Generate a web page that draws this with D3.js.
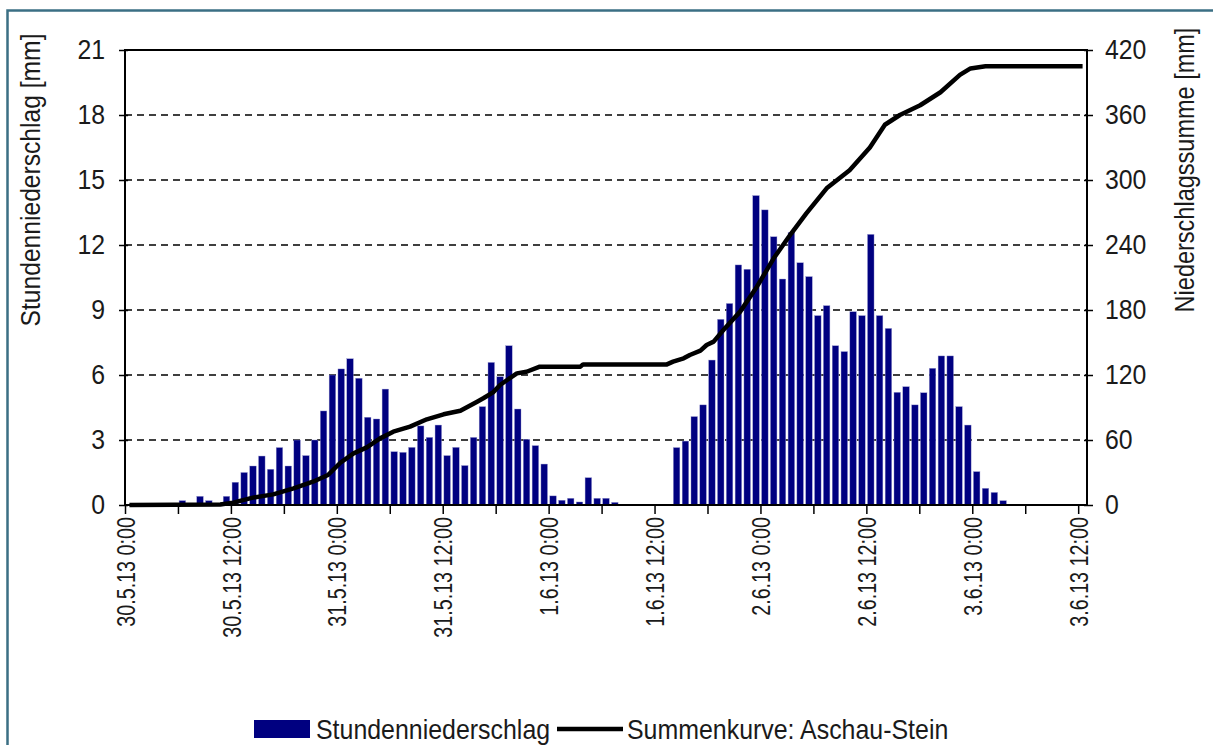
<!DOCTYPE html>
<html>
<head>
<meta charset="utf-8">
<script src="https://cdn.jsdelivr.net/npm/d3@7"></script>
<style>
  body { margin: 0; background: #fff; }
  text { font-family: "Liberation Sans", Arial, sans-serif; fill: #1a1a1a; }
</style>
</head>
<body>
<script>
// hourly rain (mm), index 0 = 30.5.13 0:00 ... 108 = 3.6.13 12:00
var hourlyRain = [
  0, 0, 0, 0, 0, 0, 0.2, 0, 0.4, 0.2,
  0, 0.4, 1.05, 1.5, 1.8, 2.26, 1.65, 2.65, 1.8, 3.0,
  2.28, 3.0, 4.34, 6.0, 6.28, 6.75, 5.85, 4.05, 3.97, 5.35,
  2.46, 2.43, 2.66, 3.65, 3.12, 3.69, 2.28, 2.66, 1.82, 3.12,
  4.54, 6.58, 5.92, 7.35, 4.43, 3.03, 2.74, 1.89, 0.42, 0.22,
  0.31, 0.14, 1.26, 0.31, 0.31, 0.12, 0, 0, 0, 0,
  0, 0, 2.65, 2.95, 4.08, 4.62, 6.69, 8.57, 9.3, 11.08,
  10.88, 14.28, 13.62, 12.38, 10.43, 12.58, 11.18, 10.54, 8.74, 9.2,
  7.35, 7.08, 8.92, 8.74, 12.49, 8.74, 8.15, 5.2, 5.46, 4.62,
  5.18, 6.31, 6.88, 6.88, 4.54, 3.69, 1.54, 0.77, 0.58, 0.2,
  0, 0, 0, 0, 0, 0, 0, 0, 0
];

// cumulative curve (hour index, mm)
var curveHour = [0, 10.3, 11.75, 14, 16.3, 18.6, 20.8, 22.5, 23.9, 25.4,
  26.9, 28.4, 29.9, 31.8, 33.7, 35.6, 37.5, 39.4, 40.1, 41.2,
  42, 42.8, 43.9, 45, 46.5, 51.1, 51.4, 60.9, 61.6, 62.8,
  63.5, 64.7, 65.4, 66.2, 67.3, 69.2, 71.1, 73, 75, 76.7,
  79, 81.6, 83.9, 85.6, 87.3, 89.6, 91.9, 94.1, 95.3, 97, 108];
var curveSum = [0, 0.5, 2.2, 6.8, 9.8, 15.4, 21.5, 27.7, 39, 47.7,
  53.2, 61.5, 67.7, 72.3, 79.1, 83.7, 87, 95.4, 98.5, 104,
  110.8, 115.4, 121.5, 123, 127.7, 127.7, 129.8, 129.8, 132.3, 135.4,
  138.5, 142.5, 147.7, 150.8, 161.5, 178.5, 201.5, 227.7, 250.8, 269.2,
  292.3, 309, 330, 351, 360, 369, 381, 397, 403, 405, 405];

var leftTicks = [0, 3, 6, 9, 12, 15, 18, 21];
var rightTicks = [0, 60, 120, 180, 240, 300, 360, 420];
var xTickHours = [0, 6, 12, 18, 24, 30, 36, 42, 48, 54, 60, 66, 72, 78, 84, 90, 96, 102, 108];
var xLabels = {0: "30.5.13 0:00", 12: "30.5.13 12:00", 24: "31.5.13 0:00", 36: "31.5.13 12:00",
  48: "1.6.13 0:00", 60: "1.6.13 12:00", 72: "2.6.13 0:00", 84: "2.6.13 12:00",
  96: "3.6.13 0:00", 108: "3.6.13 12:00"};

var W = 1213, H = 745;
var plot = {left: 125, right: 1087, top: 50, bottom: 505};

// the reference font is tall and narrow: bigger size, squeezed along the text
function squeeze(sel, sx, extra) {
  sel.each(function() {
    var t = d3.select(this);
    var xv = +t.attr("x") || 0;
    t.attr("x", xv / sx)
     .attr("transform", (extra || "") + "scale(" + sx + ",1)");
  });
}

var svg = d3.select("body").append("svg")
    .attr("width", W)
    .attr("height", H);

// outer frame
svg.append("rect")
    .attr("x", 7.5).attr("y", 10.5)
    .attr("width", W).attr("height", H)
    .attr("fill", "none")
    .attr("stroke", "#3b6f84")
    .attr("stroke-width", 2.5);

var n = hourlyRain.length;
var x = d3.scaleBand()
    .domain(d3.range(n))
    .range([plot.left, plot.right])
    .paddingInner(0.26)
    .paddingOuter(0.13);
var xh = d3.scaleLinear().domain([0, n]).range([plot.left, plot.right]);
var y = d3.scaleLinear().domain([0, 21]).range([plot.bottom, plot.top]);
var y2 = d3.scaleLinear().domain([0, 420]).range([plot.bottom, plot.top]);

// dashed gridlines
svg.append("g").selectAll("line")
    .data(leftTicks.slice(1, -1))
  .enter().append("line")
    .attr("x1", plot.left).attr("x2", plot.right)
    .attr("y1", function(d) { return y(d); })
    .attr("y2", function(d) { return y(d); })
    .attr("stroke", "#000")
    .attr("stroke-width", 1.5)
    .attr("stroke-dasharray", "7,5");

// bars
svg.append("g").selectAll("rect")
    .data(hourlyRain)
  .enter().append("rect")
    .attr("x", function(d, i) { return x(i); })
    .attr("width", x.bandwidth())
    .attr("y", function(d) { return y(d); })
    .attr("height", function(d) { return plot.bottom - y(d); })
    .attr("fill", "#000080")
    .attr("stroke", "#9a9ad0")
    .attr("stroke-width", 0.4);

// cumulative line
var line = d3.line()
    .x(function(d, i) { return xh(curveHour[i] + 0.5); })
    .y(function(d) { return y2(d); });
svg.append("path")
    .datum(curveSum)
    .attr("d", line)
    .attr("fill", "none")
    .attr("stroke", "#000")
    .attr("stroke-width", 4.5)
    .attr("stroke-linejoin", "round");

// plot frame
svg.append("rect")
    .attr("x", plot.left).attr("y", plot.top)
    .attr("width", plot.right - plot.left)
    .attr("height", plot.bottom - plot.top)
    .attr("fill", "none")
    .attr("stroke", "#000")
    .attr("stroke-width", 2);

// left axis
var gL = svg.append("g")
    .attr("transform", "translate(" + plot.left + ",0)")
    .call(d3.axisLeft(y).tickValues(leftTicks).tickSize(6).tickPadding(14));
gL.select(".domain").remove();
gL.selectAll(".tick line").attr("x1", 3).attr("stroke-width", 1.5);
gL.selectAll("text").attr("font-family", null).style("font-size", "27px");
squeeze(gL.selectAll("text"), 0.92);

// right axis
var gR = svg.append("g")
    .attr("transform", "translate(" + plot.right + ",0)")
    .call(d3.axisRight(y2).tickValues(rightTicks).tickSize(6).tickPadding(12));
gR.select(".domain").remove();
gR.selectAll(".tick line").attr("x1", -3).attr("stroke-width", 1.5);
gR.selectAll("text").attr("font-family", null).style("font-size", "27px");
squeeze(gR.selectAll("text"), 0.92);

// bottom axis
var gB = svg.append("g")
    .attr("transform", "translate(0," + plot.bottom + ")")
    .call(d3.axisBottom(xh).tickValues(xTickHours).tickSize(9)
      .tickFormat(function(d) { return xLabels[d] || ""; }));
gB.select(".domain").remove();
gB.selectAll(".tick line").attr("stroke-width", 1.5);
gB.selectAll("text")
    .attr("font-family", null)
    .style("font-size", "26px")
    .attr("text-anchor", "end")
    .attr("x", -12)
    .attr("y", 0)
    .attr("dy", "0.35em");
squeeze(gB.selectAll("text"), 0.76, "rotate(-90)");

// axis titles
svg.append("text")
    .attr("text-anchor", "middle")
    .attr("transform", "translate(40,180)rotate(-90)scale(0.88,1)")
    .style("font-size", "28px")
    .text("Stundenniederschlag [mm]");
svg.append("text")
    .attr("text-anchor", "middle")
    .attr("transform", "translate(1194,170)rotate(-90)scale(0.84,1)")
    .style("font-size", "28px")
    .text("Niederschlagssumme [mm]");

// legend
var lg = svg.append("g").attr("transform", "translate(0,729)");
lg.append("rect")
    .attr("x", 254).attr("y", -9)
    .attr("width", 56).attr("height", 18)
    .attr("fill", "#000080");
lg.append("line")
    .attr("x1", 557).attr("x2", 623)
    .attr("stroke", "#000").attr("stroke-width", 4.5);
lg.append("text")
    .attr("x", 316).attr("y", 0).attr("dy", "0.36em")
    .style("font-size", "28px")
    .text("Stundenniederschlag");
lg.append("text")
    .attr("x", 627).attr("y", 0).attr("dy", "0.36em")
    .style("font-size", "28px")
    .text("Summenkurve: Aschau-Stein");
squeeze(lg.selectAll("text"), 0.89);
</script>
</body>
</html>
